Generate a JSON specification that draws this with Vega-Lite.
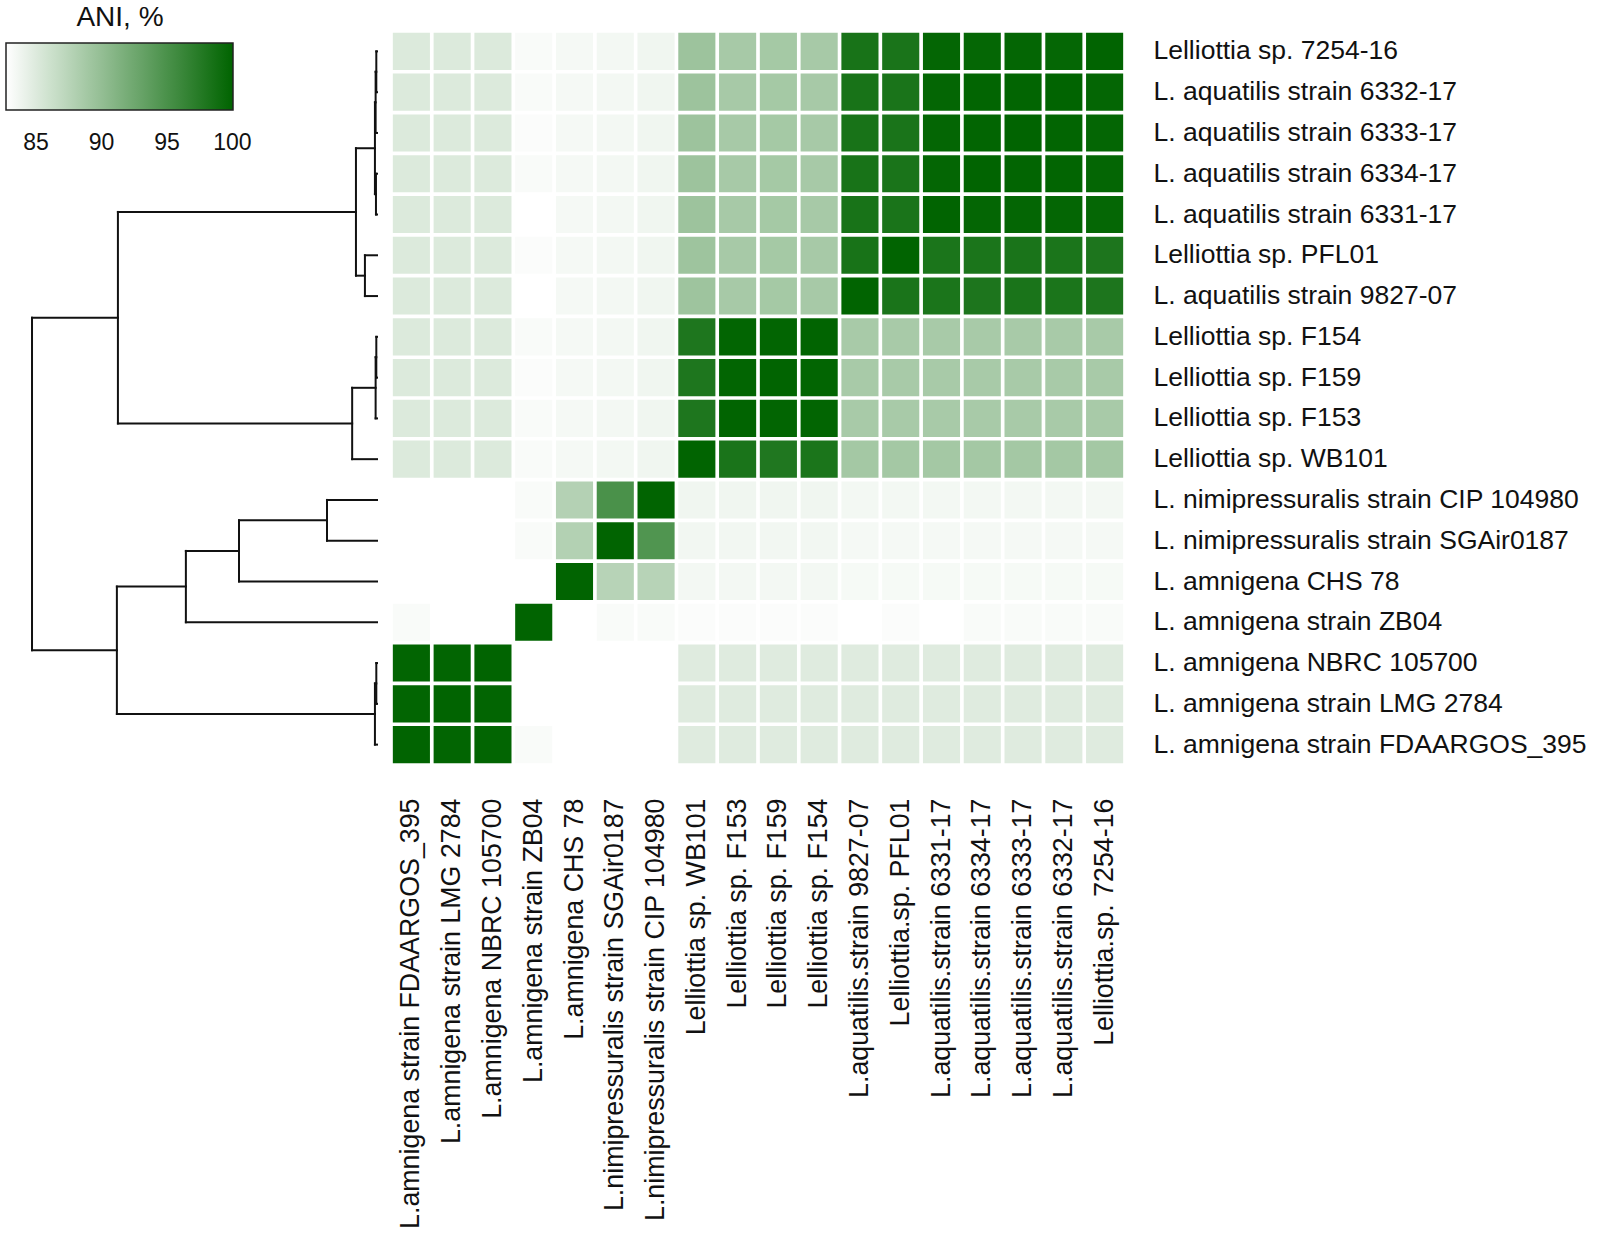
{
  "$schema": "https://vega.github.io/schema/vega-lite/v6.json",
  "padding": {"left": 6, "top": 4, "right": 5, "bottom": 5},
  "background": "white",
  "spacing": 12,
  "config": {"view": {"stroke": null}, "font": "Liberation Sans"},
  "datasets": {
    "tree": [
      {"h1":0.002,"h2":0.002,"y1":0.5,"y2":1.5},
      {"h1":0.002,"h2":0,"y1":0.5,"y2":0.5},
      {"h1":0.002,"h2":0,"y1":1.5,"y2":1.5},
      {"h1":0.004,"h2":0.004,"y1":1.0,"y2":2.5},
      {"h1":0.004,"h2":0.002,"y1":1.0,"y2":1.0},
      {"h1":0.004,"h2":0,"y1":2.5,"y2":2.5},
      {"h1":0.003,"h2":0.003,"y1":3.5,"y2":4.5},
      {"h1":0.003,"h2":0,"y1":3.5,"y2":3.5},
      {"h1":0.003,"h2":0,"y1":4.5,"y2":4.5},
      {"h1":0.006,"h2":0.006,"y1":1.75,"y2":4.0},
      {"h1":0.006,"h2":0.004,"y1":1.75,"y2":1.75},
      {"h1":0.006,"h2":0.003,"y1":4.0,"y2":4.0},
      {"h1":0.035,"h2":0.035,"y1":5.5,"y2":6.5},
      {"h1":0.035,"h2":0,"y1":5.5,"y2":5.5},
      {"h1":0.035,"h2":0,"y1":6.5,"y2":6.5},
      {"h1":0.061,"h2":0.061,"y1":2.875,"y2":6.0},
      {"h1":0.061,"h2":0.006,"y1":2.875,"y2":2.875},
      {"h1":0.061,"h2":0.035,"y1":6.0,"y2":6.0},
      {"h1":0.002,"h2":0.002,"y1":7.5,"y2":8.5},
      {"h1":0.002,"h2":0,"y1":7.5,"y2":7.5},
      {"h1":0.002,"h2":0,"y1":8.5,"y2":8.5},
      {"h1":0.004,"h2":0.004,"y1":8.0,"y2":9.5},
      {"h1":0.004,"h2":0.002,"y1":8.0,"y2":8.0},
      {"h1":0.004,"h2":0,"y1":9.5,"y2":9.5},
      {"h1":0.072,"h2":0.072,"y1":8.75,"y2":10.5},
      {"h1":0.072,"h2":0.004,"y1":8.75,"y2":8.75},
      {"h1":0.072,"h2":0,"y1":10.5,"y2":10.5},
      {"h1":0.751,"h2":0.751,"y1":4.4375,"y2":9.625},
      {"h1":0.751,"h2":0.061,"y1":4.4375,"y2":4.4375},
      {"h1":0.751,"h2":0.072,"y1":9.625,"y2":9.625},
      {"h1":0.145,"h2":0.145,"y1":11.5,"y2":12.5},
      {"h1":0.145,"h2":0,"y1":11.5,"y2":11.5},
      {"h1":0.145,"h2":0,"y1":12.5,"y2":12.5},
      {"h1":0.4,"h2":0.4,"y1":12.0,"y2":13.5},
      {"h1":0.4,"h2":0.145,"y1":12.0,"y2":12.0},
      {"h1":0.4,"h2":0,"y1":13.5,"y2":13.5},
      {"h1":0.554,"h2":0.554,"y1":12.75,"y2":14.5},
      {"h1":0.554,"h2":0.4,"y1":12.75,"y2":12.75},
      {"h1":0.554,"h2":0,"y1":14.5,"y2":14.5},
      {"h1":0.002,"h2":0.002,"y1":15.5,"y2":16.5},
      {"h1":0.002,"h2":0,"y1":15.5,"y2":15.5},
      {"h1":0.002,"h2":0,"y1":16.5,"y2":16.5},
      {"h1":0.006,"h2":0.006,"y1":16.0,"y2":17.5},
      {"h1":0.006,"h2":0.002,"y1":16.0,"y2":16.0},
      {"h1":0.006,"h2":0,"y1":17.5,"y2":17.5},
      {"h1":0.754,"h2":0.754,"y1":13.625,"y2":16.75},
      {"h1":0.754,"h2":0.554,"y1":13.625,"y2":13.625},
      {"h1":0.754,"h2":0.006,"y1":16.75,"y2":16.75},
      {"h1":1.0,"h2":1.0,"y1":7.03125,"y2":15.1875},
      {"h1":1.0,"h2":0.751,"y1":7.03125,"y2":7.03125},
      {"h1":1.0,"h2":0.754,"y1":15.1875,"y2":15.1875}
    ],
    "ani": [
      {"genome":"Lelliottia sp. 7254-16","ref":"L.amnigena strain FDAARGOS_395","ANI":85.1},
      {"genome":"Lelliottia sp. 7254-16","ref":"L.amnigena strain LMG 2784","ANI":85.1},
      {"genome":"Lelliottia sp. 7254-16","ref":"L.amnigena NBRC 105700","ANI":85.1},
      {"genome":"Lelliottia sp. 7254-16","ref":"L.amnigena strain ZB04","ANI":83.1},
      {"genome":"Lelliottia sp. 7254-16","ref":"L.amnigena CHS 78","ANI":83.4},
      {"genome":"Lelliottia sp. 7254-16","ref":"L.nimipressuralis strain SGAir0187","ANI":83.5},
      {"genome":"Lelliottia sp. 7254-16","ref":"L.nimipressuralis strain CIP 104980","ANI":83.7},
      {"genome":"Lelliottia sp. 7254-16","ref":"Lelliottia sp. WB101","ANI":89.4},
      {"genome":"Lelliottia sp. 7254-16","ref":"Lelliottia sp. F153","ANI":88.7},
      {"genome":"Lelliottia sp. 7254-16","ref":"Lelliottia sp. F159","ANI":88.8},
      {"genome":"Lelliottia sp. 7254-16","ref":"Lelliottia sp. F154","ANI":88.7},
      {"genome":"Lelliottia sp. 7254-16","ref":"L.aquatilis.strain 9827-07","ANI":98.4},
      {"genome":"Lelliottia sp. 7254-16","ref":"Lelliottia.sp. PFL01","ANI":98.3},
      {"genome":"Lelliottia sp. 7254-16","ref":"L.aquatilis.strain 6331-17","ANI":99.8},
      {"genome":"Lelliottia sp. 7254-16","ref":"L.aquatilis.strain 6334-17","ANI":99.7},
      {"genome":"Lelliottia sp. 7254-16","ref":"L.aquatilis.strain 6333-17","ANI":99.8},
      {"genome":"Lelliottia sp. 7254-16","ref":"L.aquatilis.strain 6332-17","ANI":99.7},
      {"genome":"Lelliottia sp. 7254-16","ref":"Lelliottia.sp. 7254-16","ANI":100},

      {"genome":"L. aquatilis strain 6332-17","ref":"L.amnigena strain FDAARGOS_395","ANI":85.1},
      {"genome":"L. aquatilis strain 6332-17","ref":"L.amnigena strain LMG 2784","ANI":85.1},
      {"genome":"L. aquatilis strain 6332-17","ref":"L.amnigena NBRC 105700","ANI":85.1},
      {"genome":"L. aquatilis strain 6332-17","ref":"L.amnigena strain ZB04","ANI":83.1},
      {"genome":"L. aquatilis strain 6332-17","ref":"L.amnigena CHS 78","ANI":83.4},
      {"genome":"L. aquatilis strain 6332-17","ref":"L.nimipressuralis strain SGAir0187","ANI":83.5},
      {"genome":"L. aquatilis strain 6332-17","ref":"L.nimipressuralis strain CIP 104980","ANI":83.7},
      {"genome":"L. aquatilis strain 6332-17","ref":"Lelliottia sp. WB101","ANI":89.4},
      {"genome":"L. aquatilis strain 6332-17","ref":"Lelliottia sp. F153","ANI":88.7},
      {"genome":"L. aquatilis strain 6332-17","ref":"Lelliottia sp. F159","ANI":88.8},
      {"genome":"L. aquatilis strain 6332-17","ref":"Lelliottia sp. F154","ANI":88.7},
      {"genome":"L. aquatilis strain 6332-17","ref":"L.aquatilis.strain 9827-07","ANI":98.4},
      {"genome":"L. aquatilis strain 6332-17","ref":"Lelliottia.sp. PFL01","ANI":98.3},
      {"genome":"L. aquatilis strain 6332-17","ref":"L.aquatilis.strain 6331-17","ANI":99.8},
      {"genome":"L. aquatilis strain 6332-17","ref":"L.aquatilis.strain 6334-17","ANI":99.9},
      {"genome":"L. aquatilis strain 6332-17","ref":"L.aquatilis.strain 6333-17","ANI":99.9},
      {"genome":"L. aquatilis strain 6332-17","ref":"L.aquatilis.strain 6332-17","ANI":100},
      {"genome":"L. aquatilis strain 6332-17","ref":"Lelliottia.sp. 7254-16","ANI":99.8},

      {"genome":"L. aquatilis strain 6333-17","ref":"L.amnigena strain FDAARGOS_395","ANI":85.1},
      {"genome":"L. aquatilis strain 6333-17","ref":"L.amnigena strain LMG 2784","ANI":85.1},
      {"genome":"L. aquatilis strain 6333-17","ref":"L.amnigena NBRC 105700","ANI":85.1},
      {"genome":"L. aquatilis strain 6333-17","ref":"L.amnigena strain ZB04","ANI":83.0},
      {"genome":"L. aquatilis strain 6333-17","ref":"L.amnigena CHS 78","ANI":83.4},
      {"genome":"L. aquatilis strain 6333-17","ref":"L.nimipressuralis strain SGAir0187","ANI":83.5},
      {"genome":"L. aquatilis strain 6333-17","ref":"L.nimipressuralis strain CIP 104980","ANI":83.7},
      {"genome":"L. aquatilis strain 6333-17","ref":"Lelliottia sp. WB101","ANI":89.4},
      {"genome":"L. aquatilis strain 6333-17","ref":"Lelliottia sp. F153","ANI":88.7},
      {"genome":"L. aquatilis strain 6333-17","ref":"Lelliottia sp. F159","ANI":88.8},
      {"genome":"L. aquatilis strain 6333-17","ref":"Lelliottia sp. F154","ANI":88.7},
      {"genome":"L. aquatilis strain 6333-17","ref":"L.aquatilis.strain 9827-07","ANI":98.4},
      {"genome":"L. aquatilis strain 6333-17","ref":"Lelliottia.sp. PFL01","ANI":98.3},
      {"genome":"L. aquatilis strain 6333-17","ref":"L.aquatilis.strain 6331-17","ANI":99.8},
      {"genome":"L. aquatilis strain 6333-17","ref":"L.aquatilis.strain 6334-17","ANI":99.9},
      {"genome":"L. aquatilis strain 6333-17","ref":"L.aquatilis.strain 6333-17","ANI":100},
      {"genome":"L. aquatilis strain 6333-17","ref":"L.aquatilis.strain 6332-17","ANI":99.9},
      {"genome":"L. aquatilis strain 6333-17","ref":"Lelliottia.sp. 7254-16","ANI":99.8},

      {"genome":"L. aquatilis strain 6334-17","ref":"L.amnigena strain FDAARGOS_395","ANI":85.1},
      {"genome":"L. aquatilis strain 6334-17","ref":"L.amnigena strain LMG 2784","ANI":85.1},
      {"genome":"L. aquatilis strain 6334-17","ref":"L.amnigena NBRC 105700","ANI":85.1},
      {"genome":"L. aquatilis strain 6334-17","ref":"L.amnigena strain ZB04","ANI":83.1},
      {"genome":"L. aquatilis strain 6334-17","ref":"L.amnigena CHS 78","ANI":83.4},
      {"genome":"L. aquatilis strain 6334-17","ref":"L.nimipressuralis strain SGAir0187","ANI":83.5},
      {"genome":"L. aquatilis strain 6334-17","ref":"L.nimipressuralis strain CIP 104980","ANI":83.7},
      {"genome":"L. aquatilis strain 6334-17","ref":"Lelliottia sp. WB101","ANI":89.4},
      {"genome":"L. aquatilis strain 6334-17","ref":"Lelliottia sp. F153","ANI":88.7},
      {"genome":"L. aquatilis strain 6334-17","ref":"Lelliottia sp. F159","ANI":88.8},
      {"genome":"L. aquatilis strain 6334-17","ref":"Lelliottia sp. F154","ANI":88.7},
      {"genome":"L. aquatilis strain 6334-17","ref":"L.aquatilis.strain 9827-07","ANI":98.4},
      {"genome":"L. aquatilis strain 6334-17","ref":"Lelliottia.sp. PFL01","ANI":98.3},
      {"genome":"L. aquatilis strain 6334-17","ref":"L.aquatilis.strain 6331-17","ANI":99.8},
      {"genome":"L. aquatilis strain 6334-17","ref":"L.aquatilis.strain 6334-17","ANI":100},
      {"genome":"L. aquatilis strain 6334-17","ref":"L.aquatilis.strain 6333-17","ANI":99.9},
      {"genome":"L. aquatilis strain 6334-17","ref":"L.aquatilis.strain 6332-17","ANI":99.9},
      {"genome":"L. aquatilis strain 6334-17","ref":"Lelliottia.sp. 7254-16","ANI":99.8},

      {"genome":"L. aquatilis strain 6331-17","ref":"L.amnigena strain FDAARGOS_395","ANI":85.1},
      {"genome":"L. aquatilis strain 6331-17","ref":"L.amnigena strain LMG 2784","ANI":85.1},
      {"genome":"L. aquatilis strain 6331-17","ref":"L.amnigena NBRC 105700","ANI":85.1},
      {"genome":"L. aquatilis strain 6331-17","ref":"L.amnigena strain ZB04","ANI":82.7},
      {"genome":"L. aquatilis strain 6331-17","ref":"L.amnigena CHS 78","ANI":83.4},
      {"genome":"L. aquatilis strain 6331-17","ref":"L.nimipressuralis strain SGAir0187","ANI":83.5},
      {"genome":"L. aquatilis strain 6331-17","ref":"L.nimipressuralis strain CIP 104980","ANI":83.7},
      {"genome":"L. aquatilis strain 6331-17","ref":"Lelliottia sp. WB101","ANI":89.4},
      {"genome":"L. aquatilis strain 6331-17","ref":"Lelliottia sp. F153","ANI":88.7},
      {"genome":"L. aquatilis strain 6331-17","ref":"Lelliottia sp. F159","ANI":88.8},
      {"genome":"L. aquatilis strain 6331-17","ref":"Lelliottia sp. F154","ANI":88.7},
      {"genome":"L. aquatilis strain 6331-17","ref":"L.aquatilis.strain 9827-07","ANI":98.4},
      {"genome":"L. aquatilis strain 6331-17","ref":"Lelliottia.sp. PFL01","ANI":98.3},
      {"genome":"L. aquatilis strain 6331-17","ref":"L.aquatilis.strain 6331-17","ANI":100},
      {"genome":"L. aquatilis strain 6331-17","ref":"L.aquatilis.strain 6334-17","ANI":99.8},
      {"genome":"L. aquatilis strain 6331-17","ref":"L.aquatilis.strain 6333-17","ANI":99.8},
      {"genome":"L. aquatilis strain 6331-17","ref":"L.aquatilis.strain 6332-17","ANI":99.8},
      {"genome":"L. aquatilis strain 6331-17","ref":"Lelliottia.sp. 7254-16","ANI":99.7},

      {"genome":"Lelliottia sp. PFL01","ref":"L.amnigena strain FDAARGOS_395","ANI":85.1},
      {"genome":"Lelliottia sp. PFL01","ref":"L.amnigena strain LMG 2784","ANI":85.1},
      {"genome":"Lelliottia sp. PFL01","ref":"L.amnigena NBRC 105700","ANI":85.1},
      {"genome":"Lelliottia sp. PFL01","ref":"L.amnigena strain ZB04","ANI":83.0},
      {"genome":"Lelliottia sp. PFL01","ref":"L.amnigena CHS 78","ANI":83.4},
      {"genome":"Lelliottia sp. PFL01","ref":"L.nimipressuralis strain SGAir0187","ANI":83.5},
      {"genome":"Lelliottia sp. PFL01","ref":"L.nimipressuralis strain CIP 104980","ANI":83.7},
      {"genome":"Lelliottia sp. PFL01","ref":"Lelliottia sp. WB101","ANI":89.3},
      {"genome":"Lelliottia sp. PFL01","ref":"Lelliottia sp. F153","ANI":88.7},
      {"genome":"Lelliottia sp. PFL01","ref":"Lelliottia sp. F159","ANI":88.8},
      {"genome":"Lelliottia sp. PFL01","ref":"Lelliottia sp. F154","ANI":88.7},
      {"genome":"Lelliottia sp. PFL01","ref":"L.aquatilis.strain 9827-07","ANI":98.4},
      {"genome":"Lelliottia sp. PFL01","ref":"Lelliottia.sp. PFL01","ANI":100},
      {"genome":"Lelliottia sp. PFL01","ref":"L.aquatilis.strain 6331-17","ANI":98.2},
      {"genome":"Lelliottia sp. PFL01","ref":"L.aquatilis.strain 6334-17","ANI":98.2},
      {"genome":"Lelliottia sp. PFL01","ref":"L.aquatilis.strain 6333-17","ANI":98.3},
      {"genome":"Lelliottia sp. PFL01","ref":"L.aquatilis.strain 6332-17","ANI":98.2},
      {"genome":"Lelliottia sp. PFL01","ref":"Lelliottia.sp. 7254-16","ANI":98.1},

      {"genome":"L. aquatilis strain 9827-07","ref":"L.amnigena strain FDAARGOS_395","ANI":85.1},
      {"genome":"L. aquatilis strain 9827-07","ref":"L.amnigena strain LMG 2784","ANI":85.1},
      {"genome":"L. aquatilis strain 9827-07","ref":"L.amnigena NBRC 105700","ANI":85.1},
      {"genome":"L. aquatilis strain 9827-07","ref":"L.amnigena strain ZB04","ANI":82.7},
      {"genome":"L. aquatilis strain 9827-07","ref":"L.amnigena CHS 78","ANI":83.4},
      {"genome":"L. aquatilis strain 9827-07","ref":"L.nimipressuralis strain SGAir0187","ANI":83.5},
      {"genome":"L. aquatilis strain 9827-07","ref":"L.nimipressuralis strain CIP 104980","ANI":83.7},
      {"genome":"L. aquatilis strain 9827-07","ref":"Lelliottia sp. WB101","ANI":89.3},
      {"genome":"L. aquatilis strain 9827-07","ref":"Lelliottia sp. F153","ANI":88.7},
      {"genome":"L. aquatilis strain 9827-07","ref":"Lelliottia sp. F159","ANI":88.8},
      {"genome":"L. aquatilis strain 9827-07","ref":"Lelliottia sp. F154","ANI":88.7},
      {"genome":"L. aquatilis strain 9827-07","ref":"L.aquatilis.strain 9827-07","ANI":100},
      {"genome":"L. aquatilis strain 9827-07","ref":"Lelliottia.sp. PFL01","ANI":98.3},
      {"genome":"L. aquatilis strain 9827-07","ref":"L.aquatilis.strain 6331-17","ANI":98.2},
      {"genome":"L. aquatilis strain 9827-07","ref":"L.aquatilis.strain 6334-17","ANI":98.1},
      {"genome":"L. aquatilis strain 9827-07","ref":"L.aquatilis.strain 6333-17","ANI":98.3},
      {"genome":"L. aquatilis strain 9827-07","ref":"L.aquatilis.strain 6332-17","ANI":98.2},
      {"genome":"L. aquatilis strain 9827-07","ref":"Lelliottia.sp. 7254-16","ANI":98.1},

      {"genome":"Lelliottia sp. F154","ref":"L.amnigena strain FDAARGOS_395","ANI":85.1},
      {"genome":"Lelliottia sp. F154","ref":"L.amnigena strain LMG 2784","ANI":85.1},
      {"genome":"Lelliottia sp. F154","ref":"L.amnigena NBRC 105700","ANI":85.1},
      {"genome":"Lelliottia sp. F154","ref":"L.amnigena strain ZB04","ANI":83.1},
      {"genome":"Lelliottia sp. F154","ref":"L.amnigena CHS 78","ANI":83.4},
      {"genome":"Lelliottia sp. F154","ref":"L.nimipressuralis strain SGAir0187","ANI":83.5},
      {"genome":"Lelliottia sp. F154","ref":"L.nimipressuralis strain CIP 104980","ANI":83.7},
      {"genome":"Lelliottia sp. F154","ref":"Lelliottia sp. WB101","ANI":98.0},
      {"genome":"Lelliottia sp. F154","ref":"Lelliottia sp. F153","ANI":99.9},
      {"genome":"Lelliottia sp. F154","ref":"Lelliottia sp. F159","ANI":99.9},
      {"genome":"Lelliottia sp. F154","ref":"Lelliottia sp. F154","ANI":100},
      {"genome":"Lelliottia sp. F154","ref":"L.aquatilis.strain 9827-07","ANI":88.6},
      {"genome":"Lelliottia sp. F154","ref":"Lelliottia.sp. PFL01","ANI":88.6},
      {"genome":"Lelliottia sp. F154","ref":"L.aquatilis.strain 6331-17","ANI":88.6},
      {"genome":"Lelliottia sp. F154","ref":"L.aquatilis.strain 6334-17","ANI":88.6},
      {"genome":"Lelliottia sp. F154","ref":"L.aquatilis.strain 6333-17","ANI":88.6},
      {"genome":"Lelliottia sp. F154","ref":"L.aquatilis.strain 6332-17","ANI":88.6},
      {"genome":"Lelliottia sp. F154","ref":"Lelliottia.sp. 7254-16","ANI":88.6},

      {"genome":"Lelliottia sp. F159","ref":"L.amnigena strain FDAARGOS_395","ANI":85.1},
      {"genome":"Lelliottia sp. F159","ref":"L.amnigena strain LMG 2784","ANI":85.1},
      {"genome":"Lelliottia sp. F159","ref":"L.amnigena NBRC 105700","ANI":85.1},
      {"genome":"Lelliottia sp. F159","ref":"L.amnigena strain ZB04","ANI":83.0},
      {"genome":"Lelliottia sp. F159","ref":"L.amnigena CHS 78","ANI":83.4},
      {"genome":"Lelliottia sp. F159","ref":"L.nimipressuralis strain SGAir0187","ANI":83.5},
      {"genome":"Lelliottia sp. F159","ref":"L.nimipressuralis strain CIP 104980","ANI":83.7},
      {"genome":"Lelliottia sp. F159","ref":"Lelliottia sp. WB101","ANI":98.0},
      {"genome":"Lelliottia sp. F159","ref":"Lelliottia sp. F153","ANI":99.9},
      {"genome":"Lelliottia sp. F159","ref":"Lelliottia sp. F159","ANI":100},
      {"genome":"Lelliottia sp. F159","ref":"Lelliottia sp. F154","ANI":99.9},
      {"genome":"Lelliottia sp. F159","ref":"L.aquatilis.strain 9827-07","ANI":88.6},
      {"genome":"Lelliottia sp. F159","ref":"Lelliottia.sp. PFL01","ANI":88.6},
      {"genome":"Lelliottia sp. F159","ref":"L.aquatilis.strain 6331-17","ANI":88.6},
      {"genome":"Lelliottia sp. F159","ref":"L.aquatilis.strain 6334-17","ANI":88.6},
      {"genome":"Lelliottia sp. F159","ref":"L.aquatilis.strain 6333-17","ANI":88.6},
      {"genome":"Lelliottia sp. F159","ref":"L.aquatilis.strain 6332-17","ANI":88.6},
      {"genome":"Lelliottia sp. F159","ref":"Lelliottia.sp. 7254-16","ANI":88.6},

      {"genome":"Lelliottia sp. F153","ref":"L.amnigena strain FDAARGOS_395","ANI":85.1},
      {"genome":"Lelliottia sp. F153","ref":"L.amnigena strain LMG 2784","ANI":85.1},
      {"genome":"Lelliottia sp. F153","ref":"L.amnigena NBRC 105700","ANI":85.1},
      {"genome":"Lelliottia sp. F153","ref":"L.amnigena strain ZB04","ANI":83.1},
      {"genome":"Lelliottia sp. F153","ref":"L.amnigena CHS 78","ANI":83.4},
      {"genome":"Lelliottia sp. F153","ref":"L.nimipressuralis strain SGAir0187","ANI":83.5},
      {"genome":"Lelliottia sp. F153","ref":"L.nimipressuralis strain CIP 104980","ANI":83.7},
      {"genome":"Lelliottia sp. F153","ref":"Lelliottia sp. WB101","ANI":98.0},
      {"genome":"Lelliottia sp. F153","ref":"Lelliottia sp. F153","ANI":100},
      {"genome":"Lelliottia sp. F153","ref":"Lelliottia sp. F159","ANI":99.9},
      {"genome":"Lelliottia sp. F153","ref":"Lelliottia sp. F154","ANI":99.9},
      {"genome":"Lelliottia sp. F153","ref":"L.aquatilis.strain 9827-07","ANI":88.6},
      {"genome":"Lelliottia sp. F153","ref":"Lelliottia.sp. PFL01","ANI":88.6},
      {"genome":"Lelliottia sp. F153","ref":"L.aquatilis.strain 6331-17","ANI":88.6},
      {"genome":"Lelliottia sp. F153","ref":"L.aquatilis.strain 6334-17","ANI":88.6},
      {"genome":"Lelliottia sp. F153","ref":"L.aquatilis.strain 6333-17","ANI":88.6},
      {"genome":"Lelliottia sp. F153","ref":"L.aquatilis.strain 6332-17","ANI":88.6},
      {"genome":"Lelliottia sp. F153","ref":"Lelliottia.sp. 7254-16","ANI":88.6},

      {"genome":"Lelliottia sp. WB101","ref":"L.amnigena strain FDAARGOS_395","ANI":85.1},
      {"genome":"Lelliottia sp. WB101","ref":"L.amnigena strain LMG 2784","ANI":85.1},
      {"genome":"Lelliottia sp. WB101","ref":"L.amnigena NBRC 105700","ANI":85.1},
      {"genome":"Lelliottia sp. WB101","ref":"L.amnigena strain ZB04","ANI":83.1},
      {"genome":"Lelliottia sp. WB101","ref":"L.amnigena CHS 78","ANI":83.4},
      {"genome":"Lelliottia sp. WB101","ref":"L.nimipressuralis strain SGAir0187","ANI":83.5},
      {"genome":"Lelliottia sp. WB101","ref":"L.nimipressuralis strain CIP 104980","ANI":83.7},
      {"genome":"Lelliottia sp. WB101","ref":"Lelliottia sp. WB101","ANI":100},
      {"genome":"Lelliottia sp. WB101","ref":"Lelliottia sp. F153","ANI":98.3},
      {"genome":"Lelliottia sp. WB101","ref":"Lelliottia sp. F159","ANI":97.9},
      {"genome":"Lelliottia sp. WB101","ref":"Lelliottia sp. F154","ANI":98.2},
      {"genome":"Lelliottia sp. WB101","ref":"L.aquatilis.strain 9827-07","ANI":88.9},
      {"genome":"Lelliottia sp. WB101","ref":"Lelliottia.sp. PFL01","ANI":88.9},
      {"genome":"Lelliottia sp. WB101","ref":"L.aquatilis.strain 6331-17","ANI":88.9},
      {"genome":"Lelliottia sp. WB101","ref":"L.aquatilis.strain 6334-17","ANI":88.9},
      {"genome":"Lelliottia sp. WB101","ref":"L.aquatilis.strain 6333-17","ANI":88.9},
      {"genome":"Lelliottia sp. WB101","ref":"L.aquatilis.strain 6332-17","ANI":88.9},
      {"genome":"Lelliottia sp. WB101","ref":"Lelliottia.sp. 7254-16","ANI":88.9},

      {"genome":"L. nimipressuralis strain CIP 104980","ref":"L.amnigena strain FDAARGOS_395","ANI":82.7},
      {"genome":"L. nimipressuralis strain CIP 104980","ref":"L.amnigena strain LMG 2784","ANI":82.7},
      {"genome":"L. nimipressuralis strain CIP 104980","ref":"L.amnigena NBRC 105700","ANI":82.7},
      {"genome":"L. nimipressuralis strain CIP 104980","ref":"L.amnigena strain ZB04","ANI":83.1},
      {"genome":"L. nimipressuralis strain CIP 104980","ref":"L.amnigena CHS 78","ANI":87.8},
      {"genome":"L. nimipressuralis strain CIP 104980","ref":"L.nimipressuralis strain SGAir0187","ANI":95.0},
      {"genome":"L. nimipressuralis strain CIP 104980","ref":"L.nimipressuralis strain CIP 104980","ANI":100},
      {"genome":"L. nimipressuralis strain CIP 104980","ref":"Lelliottia sp. WB101","ANI":83.7},
      {"genome":"L. nimipressuralis strain CIP 104980","ref":"Lelliottia sp. F153","ANI":83.7},
      {"genome":"L. nimipressuralis strain CIP 104980","ref":"Lelliottia sp. F159","ANI":83.7},
      {"genome":"L. nimipressuralis strain CIP 104980","ref":"Lelliottia sp. F154","ANI":83.7},
      {"genome":"L. nimipressuralis strain CIP 104980","ref":"L.aquatilis.strain 9827-07","ANI":83.5},
      {"genome":"L. nimipressuralis strain CIP 104980","ref":"Lelliottia.sp. PFL01","ANI":83.5},
      {"genome":"L. nimipressuralis strain CIP 104980","ref":"L.aquatilis.strain 6331-17","ANI":83.5},
      {"genome":"L. nimipressuralis strain CIP 104980","ref":"L.aquatilis.strain 6334-17","ANI":83.5},
      {"genome":"L. nimipressuralis strain CIP 104980","ref":"L.aquatilis.strain 6333-17","ANI":83.5},
      {"genome":"L. nimipressuralis strain CIP 104980","ref":"L.aquatilis.strain 6332-17","ANI":83.5},
      {"genome":"L. nimipressuralis strain CIP 104980","ref":"Lelliottia.sp. 7254-16","ANI":83.5},

      {"genome":"L. nimipressuralis strain SGAir0187","ref":"L.amnigena strain FDAARGOS_395","ANI":82.7},
      {"genome":"L. nimipressuralis strain SGAir0187","ref":"L.amnigena strain LMG 2784","ANI":82.7},
      {"genome":"L. nimipressuralis strain SGAir0187","ref":"L.amnigena NBRC 105700","ANI":82.7},
      {"genome":"L. nimipressuralis strain SGAir0187","ref":"L.amnigena strain ZB04","ANI":83.1},
      {"genome":"L. nimipressuralis strain SGAir0187","ref":"L.amnigena CHS 78","ANI":87.9},
      {"genome":"L. nimipressuralis strain SGAir0187","ref":"L.nimipressuralis strain SGAir0187","ANI":100},
      {"genome":"L. nimipressuralis strain SGAir0187","ref":"L.nimipressuralis strain CIP 104980","ANI":94.6},
      {"genome":"L. nimipressuralis strain SGAir0187","ref":"Lelliottia sp. WB101","ANI":83.6},
      {"genome":"L. nimipressuralis strain SGAir0187","ref":"Lelliottia sp. F153","ANI":83.6},
      {"genome":"L. nimipressuralis strain SGAir0187","ref":"Lelliottia sp. F159","ANI":83.6},
      {"genome":"L. nimipressuralis strain SGAir0187","ref":"Lelliottia sp. F154","ANI":83.6},
      {"genome":"L. nimipressuralis strain SGAir0187","ref":"L.aquatilis.strain 9827-07","ANI":83.4},
      {"genome":"L. nimipressuralis strain SGAir0187","ref":"Lelliottia.sp. PFL01","ANI":83.4},
      {"genome":"L. nimipressuralis strain SGAir0187","ref":"L.aquatilis.strain 6331-17","ANI":83.4},
      {"genome":"L. nimipressuralis strain SGAir0187","ref":"L.aquatilis.strain 6334-17","ANI":83.4},
      {"genome":"L. nimipressuralis strain SGAir0187","ref":"L.aquatilis.strain 6333-17","ANI":83.4},
      {"genome":"L. nimipressuralis strain SGAir0187","ref":"L.aquatilis.strain 6332-17","ANI":83.4},
      {"genome":"L. nimipressuralis strain SGAir0187","ref":"Lelliottia.sp. 7254-16","ANI":83.4},

      {"genome":"L. amnigena CHS 78","ref":"L.amnigena strain FDAARGOS_395","ANI":82.7},
      {"genome":"L. amnigena CHS 78","ref":"L.amnigena strain LMG 2784","ANI":82.7},
      {"genome":"L. amnigena CHS 78","ref":"L.amnigena NBRC 105700","ANI":82.7},
      {"genome":"L. amnigena CHS 78","ref":"L.amnigena strain ZB04","ANI":82.7},
      {"genome":"L. amnigena CHS 78","ref":"L.amnigena CHS 78","ANI":100},
      {"genome":"L. amnigena CHS 78","ref":"L.nimipressuralis strain SGAir0187","ANI":87.6},
      {"genome":"L. amnigena CHS 78","ref":"L.nimipressuralis strain CIP 104980","ANI":87.6},
      {"genome":"L. amnigena CHS 78","ref":"Lelliottia sp. WB101","ANI":83.5},
      {"genome":"L. amnigena CHS 78","ref":"Lelliottia sp. F153","ANI":83.5},
      {"genome":"L. amnigena CHS 78","ref":"Lelliottia sp. F159","ANI":83.5},
      {"genome":"L. amnigena CHS 78","ref":"Lelliottia sp. F154","ANI":83.5},
      {"genome":"L. amnigena CHS 78","ref":"L.aquatilis.strain 9827-07","ANI":83.3},
      {"genome":"L. amnigena CHS 78","ref":"Lelliottia.sp. PFL01","ANI":83.3},
      {"genome":"L. amnigena CHS 78","ref":"L.aquatilis.strain 6331-17","ANI":83.3},
      {"genome":"L. amnigena CHS 78","ref":"L.aquatilis.strain 6334-17","ANI":83.3},
      {"genome":"L. amnigena CHS 78","ref":"L.aquatilis.strain 6333-17","ANI":83.3},
      {"genome":"L. amnigena CHS 78","ref":"L.aquatilis.strain 6332-17","ANI":83.3},
      {"genome":"L. amnigena CHS 78","ref":"Lelliottia.sp. 7254-16","ANI":83.3},

      {"genome":"L. amnigena strain ZB04","ref":"L.amnigena strain FDAARGOS_395","ANI":83.1},
      {"genome":"L. amnigena strain ZB04","ref":"L.amnigena strain LMG 2784","ANI":82.7},
      {"genome":"L. amnigena strain ZB04","ref":"L.amnigena NBRC 105700","ANI":82.7},
      {"genome":"L. amnigena strain ZB04","ref":"L.amnigena strain ZB04","ANI":100},
      {"genome":"L. amnigena strain ZB04","ref":"L.amnigena CHS 78","ANI":82.7},
      {"genome":"L. amnigena strain ZB04","ref":"L.nimipressuralis strain SGAir0187","ANI":83.1},
      {"genome":"L. amnigena strain ZB04","ref":"L.nimipressuralis strain CIP 104980","ANI":83.1},
      {"genome":"L. amnigena strain ZB04","ref":"Lelliottia sp. WB101","ANI":83.0},
      {"genome":"L. amnigena strain ZB04","ref":"Lelliottia sp. F153","ANI":83.0},
      {"genome":"L. amnigena strain ZB04","ref":"Lelliottia sp. F159","ANI":83.0},
      {"genome":"L. amnigena strain ZB04","ref":"Lelliottia sp. F154","ANI":83.0},
      {"genome":"L. amnigena strain ZB04","ref":"L.aquatilis.strain 9827-07","ANI":82.7},
      {"genome":"L. amnigena strain ZB04","ref":"Lelliottia.sp. PFL01","ANI":83.0},
      {"genome":"L. amnigena strain ZB04","ref":"L.aquatilis.strain 6331-17","ANI":82.7},
      {"genome":"L. amnigena strain ZB04","ref":"L.aquatilis.strain 6334-17","ANI":83.1},
      {"genome":"L. amnigena strain ZB04","ref":"L.aquatilis.strain 6333-17","ANI":83.1},
      {"genome":"L. amnigena strain ZB04","ref":"L.aquatilis.strain 6332-17","ANI":83.1},
      {"genome":"L. amnigena strain ZB04","ref":"Lelliottia.sp. 7254-16","ANI":83.1},

      {"genome":"L. amnigena NBRC 105700","ref":"L.amnigena strain FDAARGOS_395","ANI":99.9},
      {"genome":"L. amnigena NBRC 105700","ref":"L.amnigena strain LMG 2784","ANI":99.9},
      {"genome":"L. amnigena NBRC 105700","ref":"L.amnigena NBRC 105700","ANI":100},
      {"genome":"L. amnigena NBRC 105700","ref":"L.amnigena strain ZB04","ANI":82.7},
      {"genome":"L. amnigena NBRC 105700","ref":"L.amnigena CHS 78","ANI":82.7},
      {"genome":"L. amnigena NBRC 105700","ref":"L.nimipressuralis strain SGAir0187","ANI":82.7},
      {"genome":"L. amnigena NBRC 105700","ref":"L.nimipressuralis strain CIP 104980","ANI":82.7},
      {"genome":"L. amnigena NBRC 105700","ref":"Lelliottia sp. WB101","ANI":84.9},
      {"genome":"L. amnigena NBRC 105700","ref":"Lelliottia sp. F153","ANI":84.9},
      {"genome":"L. amnigena NBRC 105700","ref":"Lelliottia sp. F159","ANI":84.9},
      {"genome":"L. amnigena NBRC 105700","ref":"Lelliottia sp. F154","ANI":84.9},
      {"genome":"L. amnigena NBRC 105700","ref":"L.aquatilis.strain 9827-07","ANI":84.9},
      {"genome":"L. amnigena NBRC 105700","ref":"Lelliottia.sp. PFL01","ANI":84.9},
      {"genome":"L. amnigena NBRC 105700","ref":"L.aquatilis.strain 6331-17","ANI":84.9},
      {"genome":"L. amnigena NBRC 105700","ref":"L.aquatilis.strain 6334-17","ANI":84.9},
      {"genome":"L. amnigena NBRC 105700","ref":"L.aquatilis.strain 6333-17","ANI":84.9},
      {"genome":"L. amnigena NBRC 105700","ref":"L.aquatilis.strain 6332-17","ANI":84.9},
      {"genome":"L. amnigena NBRC 105700","ref":"Lelliottia.sp. 7254-16","ANI":84.9},

      {"genome":"L. amnigena strain LMG 2784","ref":"L.amnigena strain FDAARGOS_395","ANI":99.9},
      {"genome":"L. amnigena strain LMG 2784","ref":"L.amnigena strain LMG 2784","ANI":100},
      {"genome":"L. amnigena strain LMG 2784","ref":"L.amnigena NBRC 105700","ANI":99.9},
      {"genome":"L. amnigena strain LMG 2784","ref":"L.amnigena strain ZB04","ANI":82.7},
      {"genome":"L. amnigena strain LMG 2784","ref":"L.amnigena CHS 78","ANI":82.7},
      {"genome":"L. amnigena strain LMG 2784","ref":"L.nimipressuralis strain SGAir0187","ANI":82.7},
      {"genome":"L. amnigena strain LMG 2784","ref":"L.nimipressuralis strain CIP 104980","ANI":82.7},
      {"genome":"L. amnigena strain LMG 2784","ref":"Lelliottia sp. WB101","ANI":84.9},
      {"genome":"L. amnigena strain LMG 2784","ref":"Lelliottia sp. F153","ANI":84.9},
      {"genome":"L. amnigena strain LMG 2784","ref":"Lelliottia sp. F159","ANI":84.9},
      {"genome":"L. amnigena strain LMG 2784","ref":"Lelliottia sp. F154","ANI":84.9},
      {"genome":"L. amnigena strain LMG 2784","ref":"L.aquatilis.strain 9827-07","ANI":84.9},
      {"genome":"L. amnigena strain LMG 2784","ref":"Lelliottia.sp. PFL01","ANI":84.9},
      {"genome":"L. amnigena strain LMG 2784","ref":"L.aquatilis.strain 6331-17","ANI":84.9},
      {"genome":"L. amnigena strain LMG 2784","ref":"L.aquatilis.strain 6334-17","ANI":84.9},
      {"genome":"L. amnigena strain LMG 2784","ref":"L.aquatilis.strain 6333-17","ANI":84.9},
      {"genome":"L. amnigena strain LMG 2784","ref":"L.aquatilis.strain 6332-17","ANI":84.9},
      {"genome":"L. amnigena strain LMG 2784","ref":"Lelliottia.sp. 7254-16","ANI":84.9},

      {"genome":"L. amnigena strain FDAARGOS_395","ref":"L.amnigena strain FDAARGOS_395","ANI":100},
      {"genome":"L. amnigena strain FDAARGOS_395","ref":"L.amnigena strain LMG 2784","ANI":99.9},
      {"genome":"L. amnigena strain FDAARGOS_395","ref":"L.amnigena NBRC 105700","ANI":99.9},
      {"genome":"L. amnigena strain FDAARGOS_395","ref":"L.amnigena strain ZB04","ANI":83.1},
      {"genome":"L. amnigena strain FDAARGOS_395","ref":"L.amnigena CHS 78","ANI":82.7},
      {"genome":"L. amnigena strain FDAARGOS_395","ref":"L.nimipressuralis strain SGAir0187","ANI":82.7},
      {"genome":"L. amnigena strain FDAARGOS_395","ref":"L.nimipressuralis strain CIP 104980","ANI":82.7},
      {"genome":"L. amnigena strain FDAARGOS_395","ref":"Lelliottia sp. WB101","ANI":84.9},
      {"genome":"L. amnigena strain FDAARGOS_395","ref":"Lelliottia sp. F153","ANI":84.9},
      {"genome":"L. amnigena strain FDAARGOS_395","ref":"Lelliottia sp. F159","ANI":84.9},
      {"genome":"L. amnigena strain FDAARGOS_395","ref":"Lelliottia sp. F154","ANI":84.9},
      {"genome":"L. amnigena strain FDAARGOS_395","ref":"L.aquatilis.strain 9827-07","ANI":84.9},
      {"genome":"L. amnigena strain FDAARGOS_395","ref":"Lelliottia.sp. PFL01","ANI":84.9},
      {"genome":"L. amnigena strain FDAARGOS_395","ref":"L.aquatilis.strain 6331-17","ANI":84.9},
      {"genome":"L. amnigena strain FDAARGOS_395","ref":"L.aquatilis.strain 6334-17","ANI":84.9},
      {"genome":"L. amnigena strain FDAARGOS_395","ref":"L.aquatilis.strain 6333-17","ANI":84.9},
      {"genome":"L. amnigena strain FDAARGOS_395","ref":"L.aquatilis.strain 6332-17","ANI":84.9},
      {"genome":"L. amnigena strain FDAARGOS_395","ref":"Lelliottia.sp. 7254-16","ANI":84.9}
    ]
  },
  "hconcat": [
    {
      "width": 371,
      "height": 734,
      "data": {"name": "tree"},
      "mark": {"type": "rule", "color": "#111111", "strokeWidth": 2, "strokeCap": "square"},
      "encoding": {
        "x": {"field": "h1", "type": "quantitative", "scale": {"domain": [0, 1.0754], "reverse": true, "nice": false, "zero": false}, "axis": null},
        "x2": {"field": "h2"},
        "y": {"field": "y1", "type": "quantitative", "scale": {"domain": [0, 18], "reverse": true, "nice": false, "zero": false}, "axis": null},
        "y2": {"field": "y2"}
      }
    },
    {
      "width": 734,
      "height": 734,
      "data": {"name": "ani"},
      "mark": {"type": "rect"},
      "encoding": {
        "x": {
          "field": "ref", "type": "nominal",
          "sort": ["L.amnigena strain FDAARGOS_395","L.amnigena strain LMG 2784","L.amnigena NBRC 105700","L.amnigena strain ZB04","L.amnigena CHS 78","L.nimipressuralis strain SGAir0187","L.nimipressuralis strain CIP 104980","Lelliottia sp. WB101","Lelliottia sp. F153","Lelliottia sp. F159","Lelliottia sp. F154","L.aquatilis.strain 9827-07","Lelliottia.sp. PFL01","L.aquatilis.strain 6331-17","L.aquatilis.strain 6334-17","L.aquatilis.strain 6333-17","L.aquatilis.strain 6332-17","Lelliottia.sp. 7254-16"],
          "scale": {"paddingInner": 0.09, "paddingOuter": 0.045},
          "axis": {"orient": "bottom", "title": null, "labelAngle": -90, "ticks": false, "tickSize": 0, "domain": false, "labelPadding": 33, "labelFontSize": 26.8, "labelColor": "#111111", "labelLimit": 600}
        },
        "y": {
          "field": "genome", "type": "nominal",
          "sort": ["Lelliottia sp. 7254-16","L. aquatilis strain 6332-17","L. aquatilis strain 6333-17","L. aquatilis strain 6334-17","L. aquatilis strain 6331-17","Lelliottia sp. PFL01","L. aquatilis strain 9827-07","Lelliottia sp. F154","Lelliottia sp. F159","Lelliottia sp. F153","Lelliottia sp. WB101","L. nimipressuralis strain CIP 104980","L. nimipressuralis strain SGAir0187","L. amnigena CHS 78","L. amnigena strain ZB04","L. amnigena NBRC 105700","L. amnigena strain LMG 2784","L. amnigena strain FDAARGOS_395"],
          "scale": {"paddingInner": 0.09, "paddingOuter": 0.045},
          "axis": {"orient": "right", "title": null, "ticks": false, "tickSize": 0, "domain": false, "labelPadding": 28, "labelFontSize": 26.5, "labelColor": "#111111", "labelLimit": 600}
        },
        "color": {
          "field": "ANI", "type": "quantitative", "title": "ANI, %",
          "scale": {"domain": [82.7, 100.05], "range": ["#ffffff", "#006400"], "interpolate": "rgb"},
          "legend": {
            "orient": "none", "legendX": 0, "legendY": -27, "direction": "horizontal",
            "gradientLength": 227, "gradientThickness": 67,
            "gradientStrokeColor": "#222222", "gradientStrokeWidth": 1.5,
            "values": [85, 90, 95, 100],
            "labelFontSize": 23, "labelOffset": 22, "labelColor": "#111111",
            "titleFontSize": 28, "titleFontWeight": "normal", "titleAnchor": "middle", "titlePadding": 11, "titleColor": "#111111",
            "padding": 0
          }
        }
      }
    }
  ]
}
